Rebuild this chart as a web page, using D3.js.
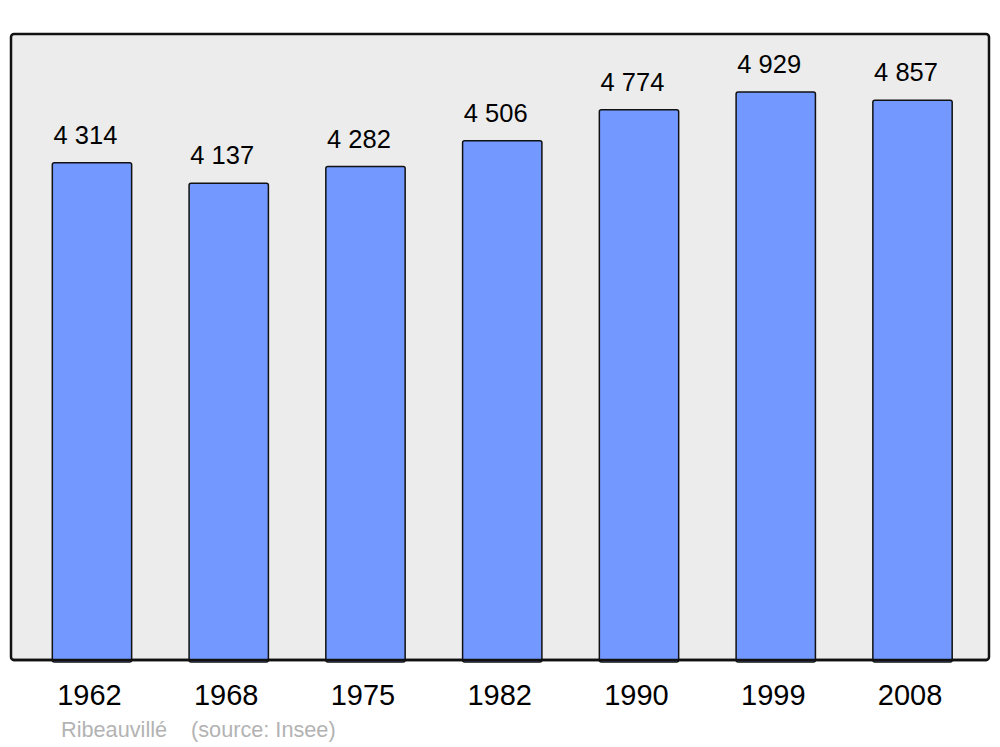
<!DOCTYPE html>
<html>
<head>
<meta charset="utf-8">
<script src="https://cdn.jsdelivr.net/npm/d3@7"></script>
<style>
  body { margin: 0; background: #fff; }
  svg { display: block; font-family: "Liberation Sans", Arial, sans-serif; }
</style>
</head>
<body>
<div id="chart"></div>
<script>
const years = ['1962', '1968', '1975', '1982', '1990', '1999', '2008'];
const population = [4314, 4137, 4282, 4506, 4774, 4929, 4857];
const townName = 'Ribeauvillé';
const sourceNote = '(source: Insee)';

const width = 1000;
const height = 747;
const frame = { left: 11, top: 34, right: 989, bottom: 660 };

const svg = d3.select('#chart')
  .append('svg')
  .attr('width', width)
  .attr('height', height);

// plot background frame
svg.append('rect')
  .attr('x', frame.left)
  .attr('y', frame.top)
  .attr('width', frame.right - frame.left)
  .attr('height', frame.bottom - frame.top)
  .attr('rx', 3)
  .attr('fill', '#ececec')
  .attr('stroke', '#111')
  .attr('stroke-width', 2.5);

const x = d3.scaleBand()
  .domain(years)
  .range([23.6, 980.9])
  .paddingInner(0.42)
  .paddingOuter(0.21);

const y = d3.scaleLinear()
  .domain([0, 5432])
  .range([frame.bottom, frame.top]);

const data = years.map((yr, i) => ({ year: yr, value: population[i] }));

svg.append('g')
  .selectAll('rect')
  .data(data)
  .join('rect')
  .attr('x', d => x(d.year))
  .attr('y', d => y(d.value))
  .attr('width', x.bandwidth())
  .attr('height', d => frame.bottom - y(d.value) + 2)
  .attr('rx', 2)
  .attr('fill', '#7398ff')
  .attr('stroke', '#111')
  .attr('stroke-width', 1.5);

// redraw bottom edge of frame on top of bars
svg.append('line')
  .attr('x1', frame.left + 2)
  .attr('x2', frame.right - 2)
  .attr('y1', frame.bottom)
  .attr('y2', frame.bottom)
  .attr('stroke', '#111')
  .attr('stroke-width', 2.5);

// value labels
svg.append('g')
  .selectAll('text')
  .data(data)
  .join('text')
  .attr('x', d => x(d.year) + x.bandwidth() / 2 - 6.5)
  .attr('y', d => y(d.value) - 19)
  .attr('text-anchor', 'middle')
  .style('font-size', '25.5px')
  .attr('fill', '#000')
  .text(d => d3.format(',')(d.value).replace(',', ' '));

// year axis labels
svg.append('g')
  .selectAll('text')
  .data(years)
  .join('text')
  .attr('x', d => x(d) + x.bandwidth() / 2 - 2.5)
  .attr('y', 705)
  .attr('text-anchor', 'middle')
  .style('font-size', '29px')
  .attr('fill', '#000')
  .text(d => d);

// footer
svg.append('text')
  .attr('x', 61)
  .attr('y', 737)
  .style('font-size', '21.7px')
  .attr('fill', '#b3b3b3')
  .text(townName);

svg.append('text')
  .attr('x', 191)
  .attr('y', 737)
  .style('font-size', '21.7px')
  .attr('fill', '#b3b3b3')
  .text(sourceNote);
</script>
</body>
</html>
